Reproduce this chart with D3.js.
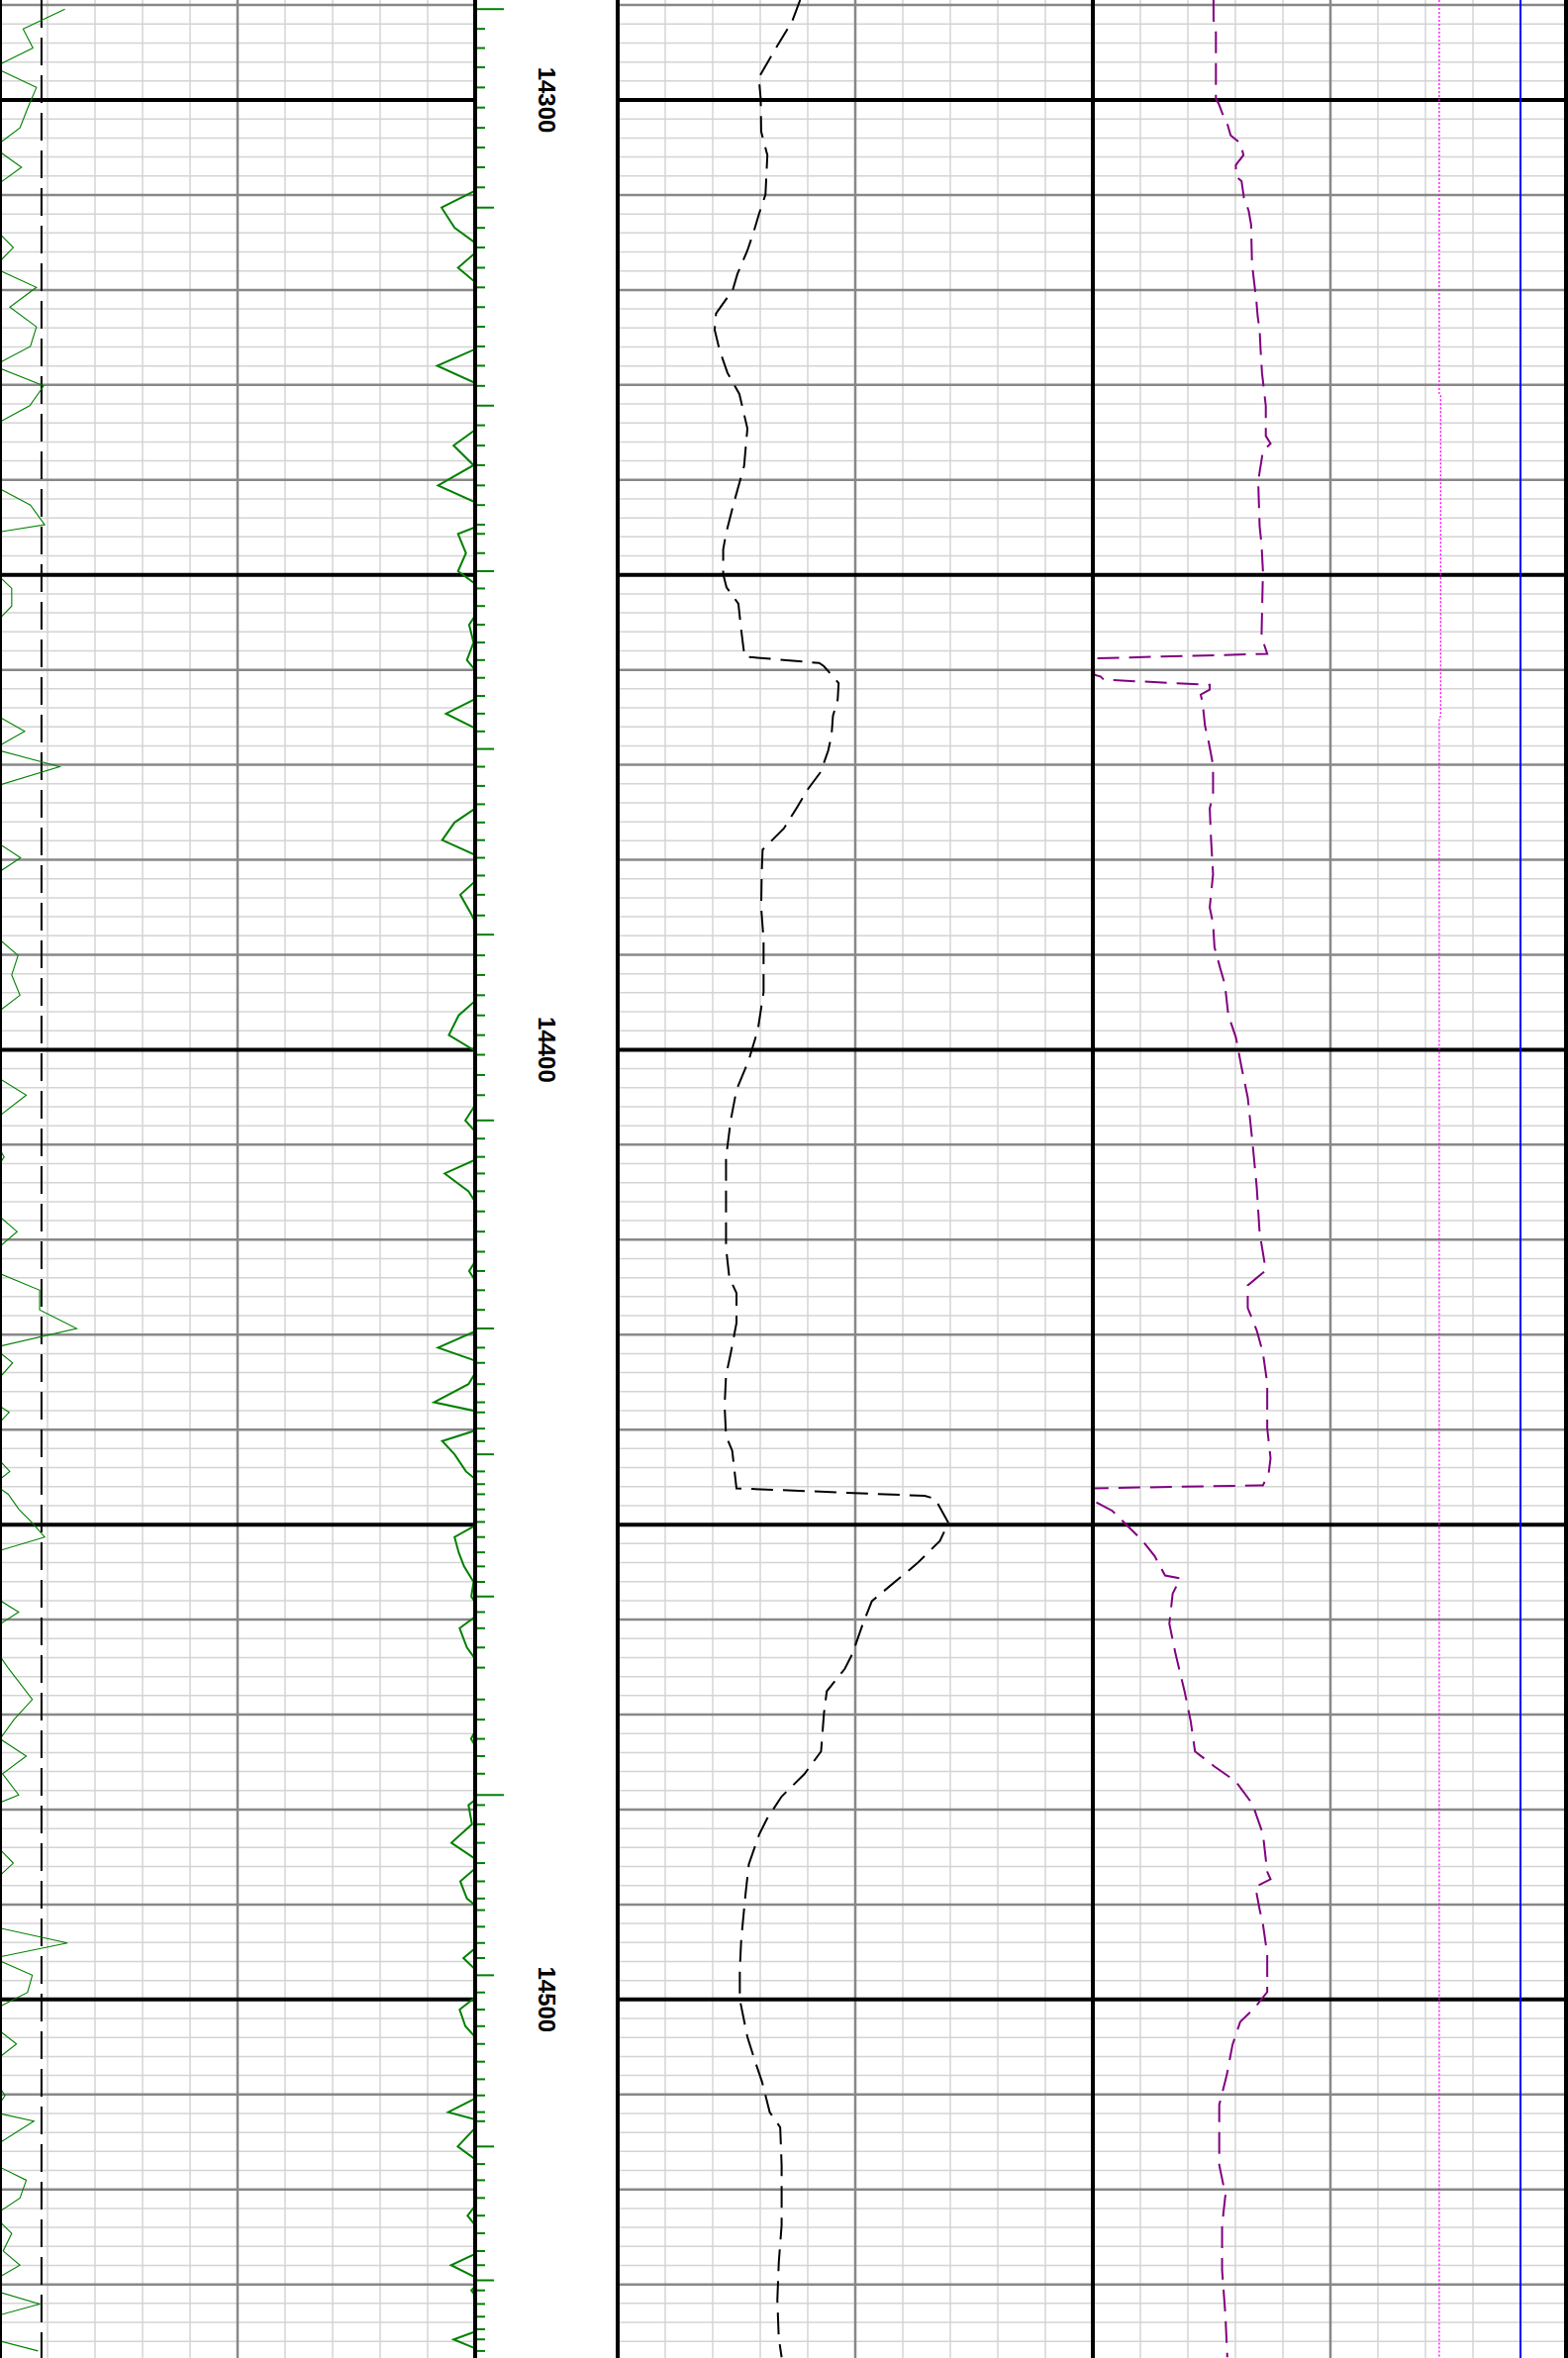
<!DOCTYPE html>
<html><head><meta charset="utf-8">
<script src="https://cdn.jsdelivr.net/npm/d3@7"></script>
<style>html,body{margin:0;padding:0;background:#fff}svg{display:block}</style>
</head><body>
<script>
// ---------------- DATA ----------------
const depthTop = 14289.47, depthBottom = 14537.75;
const depthLabels = [14300, 14400, 14500];

// sample depths (ft) shared by the two green curves and the depth ticks
const sampleDepth = [
14290.43,14292.51,14294.53,14296.55,14298.68,14300.80,14302.93,14305.00,14307.08,14309.20,
14311.33,14313.46,14315.53,14317.66,14319.73,14321.81,14323.88,14325.95,14327.98,14330.10,
14332.18,14334.25,14336.38,14338.45,14340.58,14342.65,14344.72,14345.68,14347.71,14349.61,
14351.43,14353.28,14355.25,14357.12,14358.97,14360.84,14362.75,14364.61,14366.48,14368.33,
14370.20,14372.22,14374.15,14376.07,14377.93,14379.79,14381.66,14383.68,14385.86,14387.88,
14390.06,14392.13,14394.26,14396.38,14398.46,14400.53,14402.66,14404.78,14407.44,14409.36,
14411.28,14413.03,14414.90,14417.02,14419.15,14421.27,14423.30,14425.32,14427.39,14429.35,
14431.37,14432.97,14435.21,14437.12,14438.18,14439.89,14441.21,14442.60,14444.40,14445.74,
14446.80,14448.40,14449.72,14451.31,14452.92,14454.40,14456.03,14457.57,14459.21,14460.91,
14462.94,14465.06,14468.41,14470.53,14472.56,14474.37,14476.23,14478.47,14479.53,14481.55,
14483.51,14485.64,14487.56,14489.37,14490.59,14492.34,14494.05,14495.64,14497.45,14499.26,
14501.06,14502.81,14504.68,14506.55,14508.40,14510.10,14511.86,14512.82,14515.48,14517.33,
14519.03,14520.90,14522.76,14524.62,14526.49,14527.98,14529.57,14530.63,14532.06,14533.40,
14534.73,14535.79,14537.01];

// green curve, left track, scale 0-150
const grLeft = [
20.5,7.3,10.4,-2,11.5,8.8,6.3,-2,6.8,-2,
-2,-2,4.2,-2,11.5,3.1,11.5,9.6,-2,13.8,
9.4,-2,-2,-2,-2,9.6,14.1,-4,-2,-2,
3.7,3.7,-2,-2,-2,0.5,-2,-2,7.8,-2,
18.8,-1,-2,-2,-2,6.5,-2,-2,-2,-2,
5.7,3.7,6.3,-2,-2,-2,-2,8.3,-2,-2,
1.3,-2,-2,-2,5.4,-2,-2,12.5,12.5,24.2,
-2,4.0,-2,-2,2.9,-2,-2,-2,3.1,-2,
2.6,6.0,9.9,14.1,-2,-2,-2,-2,5.9,-2,
-2,2.5,10.2,4.4,0,8.3,0.8,5.9,-2,-2,
-2,4.2,-2,-2,-2,-2,21.3,-2,10.2,8.7,
-2,-2,5.2,-2,-2,1.6,-2,10.7,-2,-2,
8.3,6.3,-2,3.7,1.0,6.3,-2,-2,12.5,-2,
-2,-2,12.0];

// green curve hugging the right edge of the left track, scale 0-150
const grRight = [
152,152,152,152,152,152,152,152,152,152,
139.4,143.5,152,144.6,152,152,152,152,138.0,152,
152,152,143.2,149.5,138.3,152,152,144.6,147.1,144.6,
152,152,148.1,149.5,147.4,152,152,140.8,152,152,
152,152,152,143.5,139.6,152,152,145.3,149.0,152,
152,152,152,144.8,141.7,152,152,152,146.9,152,
152,140.4,147.9,152,152,152,148.1,152,152,152,
138.3,152,147.9,137.0,152,152,139.6,143.5,147.1,152,
152,152,152,143.5,144.8,146.5,149.5,148.8,152,145.1,
147.4,152,152,152,148.7,152,152,152,147.9,149.0,
142.5,152,145.3,147.4,152,152,152,146.3,152,152,
145.1,146.9,152,152,152,152,141.5,152,144.5,152,
152,152,147.6,152,152,142.4,152,148.8,152,152,
152,143.2,152];

const tickLongDepth = [14311.33,14332.18,14349.61,14368.33,14387.88,14407.44,14429.35,14442.60,14457.57,14497.45,14515.48,14529.57];
const tickExtraDepth = [14290.43,14478.47];

const cutoffValue = 13.1;   // dashed black reference line, left track

// black dashed curve, track 2 (0-100)
const blackDepth = [
14289.47,14291.73,14294.86,14297.63,14299.89,14303.33,14305.80,14309.97,14312.06,14313.76,
14315.84,14318.31,14320.01,14322.48,14324.18,14326.26,14328.73,14330.95,14334.58,14338.54,
14342.50,14345.66,14347.32,14349.92,14351.31,14353.05,14355.83,14358.61,14359.28,14359.62,
14361.39,14363.13,14364.86,14366.94,14368.51,14370.77,14372.51,14374.59,14376.68,14378.93,
14381.53,14385.02,14388.41,14393.94,14397.90,14401.07,14404.24,14407.40,14411.36,14416.11,
14420.85,14424.02,14425.61,14428.77,14431.93,14434.31,14437.48,14440.65,14442.22,14446.18,
14446.97,14447.28,14449.82,14451.72,14454.09,14455.67,14458.05,14460.43,14463.60,14465.18,
14467.55,14469.92,14473.88,14476.26,14478.63,14481.00,14482.59,14485.75,14488.92,14493.67,
14496.83,14500.00,14503.95,14506.33,14508.71,14511.87,14513.46,14517.42,14523.75,14527.70,
14531.66,14535.62,14537.67];
const blackValue = [
38.4,36.7,32.9,29.7,30.1,30.2,31.5,31.1,29.7,28.7,
27.3,25.2,24.2,20.7,20.4,21.4,23.1,25.6,27.3,26.6,
24.4,22.8,22.2,22.2,22.9,25.4,26.0,26.7,42.4,43.4,
46.5,46.3,45.3,45.0,44.3,42.7,40.1,37.6,35.0,30.5,
30.3,30.2,30.7,30.7,29.5,27.6,25.0,23.8,22.8,22.8,
22.8,23.5,25.0,25.0,23.8,22.8,22.5,22.8,24.1,25.0,
64.6,66.8,69.6,67.8,63.0,59.2,53.5,51.6,49.4,47.8,
44.0,43.4,42.8,39.3,34.5,31.4,29.8,27.6,26.9,26.0,
25.7,25.7,27.3,28.8,30.4,32.0,34.2,34.5,34.5,33.9,
33.6,33.9,34.5];

// purple dashed curve, track 3 (0-100)
const purpleDepth = [
14289.47,14291.55,14292.91,14299.89,14300.41,14301.46,14302.50,14303.72,14304.58,14305.80,
14306.84,14308.05,14308.54,14310.32,14311.67,14313.10,14317.27,14318.97,14321.05,14322.82,
14324.18,14326.26,14328.73,14332.20,14335.37,14336.17,14336.96,14340.13,14344.87,14346.80,
14349.62,14356.49,14358.32,14358.80,14360.52,14360.69,14361.04,14361.57,14362.09,14362.61,
14363.47,14365.87,14367.64,14370.04,14373.17,14374.59,14378.07,14381.51,14385.02,14386.72,
14389.20,14391.58,14393.15,14396.32,14398.69,14401.86,14405.03,14409.77,14414.52,14419.27,
14423.23,14424.81,14427.19,14429.56,14431.93,14435.10,14439.85,14443.01,14444.59,14445.86,
14446.18,14447.45,14448.55,14450.14,14451.72,14453.31,14455.36,14455.67,14457.26,14460.43,
14463.60,14467.55,14470.72,14473.88,14475.47,14477.05,14479.42,14482.59,14486.55,14487.34,
14488.13,14490.50,14492.08,14495.25,14499.21,14500.80,14502.38,14504.75,14507.92,14511.09,
14517.41,14520.58,14523.75,14528.49,14533.24,14537.67];
const purpleValue = [
25.4,25.4,25.9,25.9,26.5,27.3,28.3,29.0,31.1,31.7,
30.1,30.1,31.3,31.8,32.8,33.3,33.5,33.9,34.4,34.7,
35.1,35.3,35.6,36.4,36.4,37.4,35.8,34.8,35.1,35.5,
35.8,35.5,36.7,0.0,0.3,1.6,2.3,24.6,24.6,22.7,
23.1,23.6,24.4,25.3,25.3,24.6,24.9,25.3,24.6,25.3,
25.6,26.9,27.8,28.5,30.1,31.3,32.6,33.6,34.5,35.1,
36.4,32.6,32.6,34.5,35.8,36.7,36.7,37.4,37.0,35.8,
0.0,0.0,4.1,7.3,10.5,13.0,15.2,18.4,16.8,16.1,
17.4,19.3,20.6,21.5,25.6,30.1,33.6,35.8,36.7,37.4,
34.2,35.1,35.8,36.7,36.7,34.2,31.0,29.4,28.2,26.6,
26.6,27.9,27.2,27.2,27.9,28.3];

// magenta dotted curve and blue line, track 3 (0-100)
const magentaDepth = [14289.47,14330.9,14331.0,14364.9,14365.0,14537.75];
const magentaValue = [72.9,72.9,73.2,73.2,72.9,72.9];
const blueValue = 90;

// ---------------- CHART ----------------
const W = 1584, H = 2382;
const y = d3.scaleLinear().domain([depthTop, depthBottom]).range([0, H]);
const x1 = d3.scaleLinear().domain([0, 150]).range([0, 480]);
const x2 = d3.scaleLinear().domain([0, 100]).range([624, 1104]);
const x3 = d3.scaleLinear().domain([0, 100]).range([1104, 1584]);

const svg = d3.select("body").append("svg").attr("width", W).attr("height", H);
const defs = svg.append("defs");
[["c1", x1], ["c2", x2], ["c3", x3]].forEach(([id, s]) => {
  const r = s.range();
  defs.append("clipPath").attr("id", id).append("rect")
    .attr("x", r[0]).attr("y", 0).attr("width", r[1] - r[0]).attr("height", H);
});

const styles = {
  light: {c: "#d4d4d4", w: 1.5},
  med: {c: "#888888", w: 2.5},
  thick: {c: "#000000", w: 4}
};
const gGrid = svg.append("g");
const hDepths = d3.range(Math.ceil(depthTop / 2) * 2, depthBottom, 2);
const spans = [[0, 480], [624, 1584]];
function depthClass(d) { return d % 50 === 0 ? "thick" : d % 10 === 0 ? "med" : "light"; }

["light", "med", "thick"].forEach(cls => {
  const st = styles[cls];
  if (cls !== "thick") {
    [x1, x2, x3].forEach(s => {
      const dm = s.domain();
      d3.range(1, 10).forEach(i => {
        const isMed = i === 5;
        if ((cls === "med") !== isMed) return;
        const xv = s(dm[0] + i * (dm[1] - dm[0]) / 10);
        gGrid.append("line").attr("x1", xv).attr("x2", xv).attr("y1", 0).attr("y2", H)
          .attr("stroke", st.c).attr("stroke-width", st.w);
      });
    });
  }
  hDepths.filter(d => depthClass(d) === cls).forEach(d => {
    spans.forEach(sp => {
      gGrid.append("line").attr("x1", sp[0]).attr("x2", sp[1]).attr("y1", y(d)).attr("y2", y(d))
        .attr("stroke", st.c).attr("stroke-width", st.w);
    });
  });
});

// ---- track 1 curves ----
const samples = sampleDepth.map((d, i) => ({d, l: grLeft[i], r: grRight[i]}));
const t1 = svg.append("g").attr("clip-path", "url(#c1)");
t1.append("line").attr("x1", x1(cutoffValue)).attr("x2", x1(cutoffValue))
  .attr("y1", y(depthTop)).attr("y2", y(depthBottom))
  .attr("stroke", "#000").attr("stroke-width", 2).attr("stroke-dasharray", "28,10");
t1.append("path").datum(samples)
  .attr("d", d3.line().x(p => x1(p.l)).y(p => y(p.d)))
  .attr("fill", "none").attr("stroke", "#008000").attr("stroke-width", 1.1);
t1.append("path").datum(samples)
  .attr("d", d3.line().x(p => x1(p.r)).y(p => y(p.d)))
  .attr("fill", "none").attr("stroke", "#008000").attr("stroke-width", 2);

// ---- depth track ticks ----
const gTicks = svg.append("g");
const x0 = x1.range()[1];
sampleDepth.forEach(d => {
  const len = tickExtraDepth.includes(d) ? 29 : tickLongDepth.includes(d) ? 19 : 10;
  gTicks.append("line").attr("x1", x0).attr("x2", x0 + len).attr("y1", y(d)).attr("y2", y(d))
    .attr("stroke", "#008000").attr("stroke-width", 2);
});

// depth labels
depthLabels.forEach(d => {
  svg.append("text")
    .attr("transform", `translate(552,${y(d)}) rotate(90)`)
    .attr("text-anchor", "middle").attr("dy", "0.35em")
    .attr("font-family", "'Liberation Sans', Arial, sans-serif")
    .attr("font-weight", "bold").attr("font-size", 24).attr("fill", "#000")
    .text(d);
});

// ---- track 2 ----
const t2 = svg.append("g").attr("clip-path", "url(#c2)");
t2.append("path").datum(blackDepth.map((d, i) => [d, blackValue[i]]))
  .attr("d", d3.line().x(p => x2(p[1])).y(p => y(p[0])))
  .attr("fill", "none").attr("stroke", "#000").attr("stroke-width", 2)
  .attr("stroke-dasharray", "22,10");

// ---- track 3 ----
const t3 = svg.append("g").attr("clip-path", "url(#c3)");
t3.append("path").datum(magentaDepth.map((d, i) => [d, magentaValue[i]]))
  .attr("d", d3.line().x(p => x3(p[1])).y(p => y(p[0])))
  .attr("fill", "none").attr("stroke", "#ff00ff").attr("stroke-width", 1.3)
  .attr("stroke-dasharray", "2,2");
t3.append("line").attr("x1", x3(blueValue)).attr("x2", x3(blueValue))
  .attr("y1", 0).attr("y2", H).attr("stroke", "#0000ff").attr("stroke-width", 2);
t3.append("path").datum(purpleDepth.map((d, i) => [d, purpleValue[i]]))
  .attr("d", d3.line().x(p => x3(p[1])).y(p => y(p[0])))
  .attr("fill", "none").attr("stroke", "#800080").attr("stroke-width", 2)
  .attr("stroke-dasharray", "22,10");

// ---- borders ----
[x1.range()[0], x1.range()[1], x2.range()[0], x3.range()[0], x3.range()[1] - 2].forEach(xv => {
  svg.append("line").attr("x1", xv).attr("x2", xv).attr("y1", 0).attr("y2", H)
    .attr("stroke", "#000").attr("stroke-width", 4);
});
</script>
</body></html>
